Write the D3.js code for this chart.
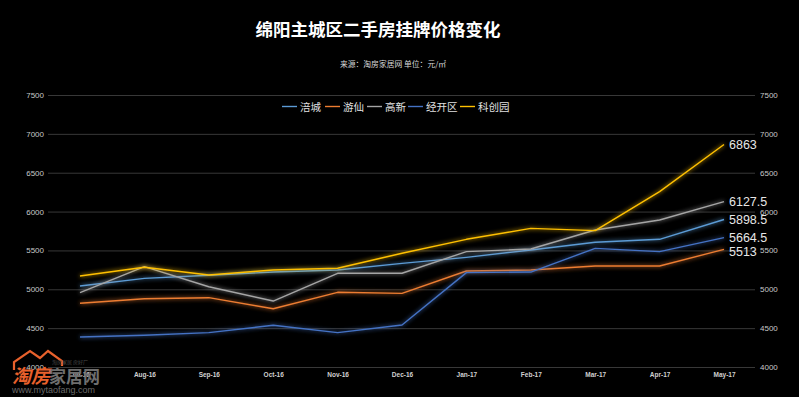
<!DOCTYPE html>
<html><head><meta charset="utf-8">
<script src="https://cdn.jsdelivr.net/npm/d3@7"></script>
<style>
html,body{margin:0;padding:0;background:#000;}
svg{display:block;}
</style></head>
<body>
<svg id="chart" width="799" height="397"></svg>
<script>
const categories = ["Jul-16","Aug-16","Sep-16","Oct-16","Nov-16","Dec-16","Jan-17","Feb-17","Mar-17","Apr-17","May-17"];
const seriesNames = ["涪城","游仙","高新","经开区","科创园"];
const fuCheng   = [5042,5141,5180,5222,5248,5334,5411,5506,5605,5643,5898.5];
const youXian   = [4820,4879,4892,4750,4961,4948,5235,5248,5300,5300,5513];
const gaoXin    = [4957,5291,5033,4849,5206,5206,5484,5518,5763,5892,6127.5];
const jingKai   = [4386,4408,4442,4537,4442,4540,5214,5222,5527,5484,5664.5];
const keChuang  = [5171,5283,5184,5248,5270,5463,5643,5784,5755,6256,6863];
const yTicks = [4000,4500,5000,5500,6000,6500,7000,7500];
const colors = ["#5b9bd5","#ed7d31","#a5a5a5","#4472c4","#ffc000"];
const seriesValues = [fuCheng, youXian, gaoXin, jingKai, keChuang];

const svg = d3.select("#chart");
svg.append("rect").attr("width",799).attr("height",397).attr("fill","#000");

const defs = svg.append("defs");
const f = defs.append("filter").attr("id","glow").attr("x","-10%").attr("y","-50%").attr("width","120%").attr("height","200%");
f.append("feGaussianBlur").attr("in","SourceGraphic").attr("stdDeviation",2.2).attr("result","b");
const m = f.append("feMerge");
m.append("feMergeNode").attr("in","b");
m.append("feMergeNode").attr("in","SourceGraphic");

const x = d3.scalePoint().domain(categories).range([80,724]);
const y = d3.scaleLinear().domain([4000,7500]).range([367,95]);

// gridlines
svg.append("g").selectAll("line").data(yTicks).join("line")
  .attr("x1",48).attr("x2",755)
  .attr("y1",d=>y(d)+0.5).attr("y2",d=>y(d)+0.5)
  .attr("stroke","#383838").attr("stroke-width",1);

// left axis
const leftAxis = d3.axisLeft(y).tickValues(yTicks).tickSize(0).tickPadding(0).tickFormat(d3.format("d"));
const gl = svg.append("g").attr("transform","translate(44,0)").call(leftAxis);
gl.select(".domain").remove();
gl.selectAll("text").attr("fill","#c8c8c8").style("font","8px 'Liberation Sans', Arial, sans-serif");

const rightAxis = d3.axisRight(y).tickValues(yTicks).tickSize(0).tickPadding(0).tickFormat(d3.format("d"));
const gr = svg.append("g").attr("transform","translate(760,0)").call(rightAxis);
gr.select(".domain").remove();
gr.selectAll("text").attr("fill","#c8c8c8").style("font","8px 'Liberation Sans', Arial, sans-serif");

// bottom axis
const bottomAxis = d3.axisBottom(x).tickSize(0).tickPadding(0);
const gb = svg.append("g").attr("transform","translate(0,372)").call(bottomAxis);
gb.select(".domain").remove();
gb.selectAll("text").attr("fill","#d0d0d0").style("font","bold 6.5px 'Liberation Sans', Arial, sans-serif");

// lines
const line = d3.line().x((d,i)=>x(categories[i])).y(d=>y(d));
const lg = svg.append("g");
seriesValues.forEach((vals,k)=>{
  lg.append("path").datum(vals).attr("d",line)
    .attr("fill","none").attr("stroke",colors[k]).attr("stroke-width",1.4)
    .attr("stroke-linejoin","round").attr("filter","url(#glow)");
});

// end labels
const last = categories.length-1;
const labelDy = [0,2,0,0,0];
svg.append("g").selectAll("text").data(seriesValues).join("text")
  .attr("x",729).attr("y",(d,i)=>y(d[last])+labelDy[i]).attr("dy","0.35em")
  .attr("fill","#e6e6e6").style("font","12.5px 'Liberation Sans Narrow', 'Liberation Sans', sans-serif")
  .text(d=>d3.format("")(d[last]));

// title
svg.append("text").attr("x",378).attr("y",36).attr("text-anchor","middle")
  .attr("fill","#fff").style("font","bold 17.5px 'Noto Sans CJK SC', sans-serif")
  .text("绵阳主城区二手房挂牌价格变化");
svg.append("text").attr("x",393).attr("y",67).attr("text-anchor","middle")
  .attr("fill","#d8d8d8").style("font","7.8px 'Noto Sans CJK SC', sans-serif")
  .text("来源：淘房家居网  单位：元/㎡");

// legend
const legX = [282,325,367,408,460];
const leg = svg.append("g");
seriesNames.forEach((n,k)=>{
  leg.append("line").attr("x1",legX[k]).attr("x2",legX[k]+15).attr("y1",106.5).attr("y2",106.5)
    .attr("stroke",colors[k]).attr("stroke-width",1.4);
  leg.append("text").attr("x",legX[k]+18).attr("y",107).attr("dy","0.35em")
    .attr("fill","#e0e0e0").style("font","10.5px 'Noto Sans CJK SC', sans-serif").text(n);
});

// watermark
const wm = svg.append("g");
wm.append("path").attr("d","M14,370 L14,362 L30,351 L40,358 L48,351 L62,361 L62,366")
  .attr("fill","none").attr("stroke","#e8612c").attr("stroke-width",2.2);
wm.append("text").attr("x",12).attr("y",383).attr("fill","#e8612c")
  .style("font","bold italic 19px 'Noto Sans CJK SC', sans-serif").text("淘房");
wm.append("text").attr("x",49).attr("y",383).attr("fill","#6e6e6e")
  .style("font","bold 17px 'Noto Sans CJK SC', sans-serif").text("家居网");
wm.append("text").attr("x",52).attr("y",364).attr("fill","#4a4a4a")
  .style("font","5px 'Noto Sans CJK SC', sans-serif").text("淘房家居 房好厂");
wm.append("text").attr("x",12).attr("y",393).attr("fill","#6a6a6a")
  .style("font","9px 'Liberation Sans', Arial, sans-serif").text("www.mytaofang.com");
</script>
</body></html>
